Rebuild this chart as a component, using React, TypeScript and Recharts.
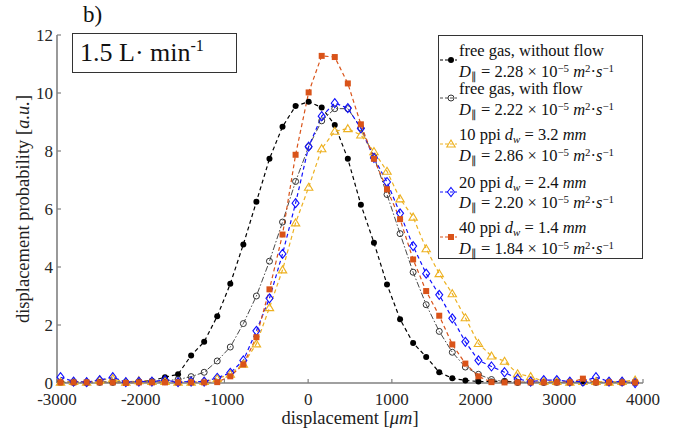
import { LineChart, Line, XAxis, YAxis, Legend } from "recharts";

// displacement grid [µm]
const displacement = [
  -2958, -2802, -2646, -2490, -2334, -2178, -2022, -1866, -1710, -1554,
  -1398, -1242, -1086, -930, -774, -618, -462, -306, -150, 6,
  162, 318, 474, 630, 786, 942, 1098, 1254, 1410, 1566,
  1722, 1878, 2034, 2190, 2346, 2502, 2658, 2814, 2970, 3126,
  3282, 3438, 3594, 3750, 3906,
];

const noFlow = [
  0.03, 0.03, 0.03, 0.03, 0.03, 0.03, 0.05, 0.08, 0.2, 0.3,
  0.95, 1.42, 2.3, 3.42, 4.78, 6.25, 7.73, 8.84, 9.55, 9.7,
  9.5, 8.9, 7.73, 6.15, 4.84, 3.4, 2.2, 1.38, 0.9, 0.37,
  0.16, 0.09, 0.05, 0.05, 0.07, 0.02, 0.03, 0.02, 0.04, 0.02,
  0.02, 0.03, 0.02, 0.02, 0.02,
];

const withFlow = [
  0.02, 0.02, 0.0, 0.02, 0.02, 0.02, 0.03, 0.05, 0.08, 0.12,
  0.22, 0.37, 0.76, 1.24, 2.05, 3.0, 4.2, 5.55, 6.95, 8.15,
  9.04, 9.46, 9.46, 8.8, 7.8, 6.5, 5.15, 3.82, 2.7, 1.78,
  1.06, 0.55, 0.3, 0.12, 0.05, 0.02, 0.02, 0.02, 0.02, 0.02,
  0.02, 0.02, 0.02, 0.02, 0.02,
];

const ppi10 = [
  0.03, 0.05, 0.03, 0.1, 0.15, 0.03, 0.08, 0.05, 0.05, 0.03,
  0.03, 0.05, 0.15, 0.3, 0.65, 1.35, 2.6, 3.9, 5.52, 6.75,
  8.08, 8.68, 8.77, 8.55, 7.98, 7.3, 6.35, 5.72, 4.63, 3.77,
  3.08, 2.25, 1.36, 0.93, 0.75, 0.32, 0.22, 0.05, 0.05, 0.03,
  0.05, 0.05, 0.03, 0.05, 0.1,
];

const ppi20 = [
  0.2, 0.05, 0.03, 0.1, 0.2, 0.03, 0.05, 0.05, 0.1, 0.03,
  0.05, 0.05, 0.18, 0.35, 0.78, 1.8, 2.92, 4.45, 6.2, 8.15,
  9.2, 9.65, 9.48, 8.78, 7.76, 6.93, 5.85, 4.72, 3.77, 3.04,
  2.23, 1.42, 0.78, 0.57, 0.37, 0.14, 0.05, 0.1, 0.1, 0.05,
  0.05, 0.2, 0.05, 0.05, 0.0,
];

const ppi40 = [
  0.02, 0.02, 0.02, 0.02, 0.02, 0.0, 0.02, 0.02, 0.02, 0.02,
  0.02, 0.02, 0.03, 0.23, 0.64, 1.58, 3.23, 5.12, 7.87, 10.02,
  11.28, 11.24, 10.33, 8.92, 7.73, 6.68, 5.65, 4.26, 3.17, 2.32,
  1.33, 0.67, 0.23, 0.03, 0.02, 0.02, 0.02, 0.02, 0.02, 0.02,
  0.15, 0.02, 0.02, 0.02, 0.02,
];

const xTicks = [-3000, -2000, -1000, 0, 1000, 2000, 3000, 4000];
const yTicks = [0, 2, 4, 6, 8, 10, 12];

const seriesNames = ["free gas, without flow", "free gas, with flow", "10 ppi", "20 ppi", "40 ppi"];
const wireDiameter = ["", "", "3.2", "2.4", "1.4"];
const diffusionCoef = ["2.28", "2.22", "2.86", "2.20", "1.84"];

const FONT = '"Liberation Serif", "Times New Roman", serif';

const SERIES = [
  { key: "noFlow", color: "#000000", shape: "dot", dash: "4 3", width: 1.2 },
  { key: "withFlow", color: "#333333", shape: "ring", dash: "6 2 1.5 2", width: 0.9 },
  { key: "ppi10", color: "#EDB120", shape: "triangle", dash: "4 3", width: 1.2 },
  { key: "ppi20", color: "#1010FF", shape: "diamond", dash: "4 3", width: 1.2 },
  { key: "ppi40", color: "#D95319", shape: "square", dash: "4 3", width: 1.2 },
];

const data = displacement.map((x, i) => ({
  x,
  noFlow: noFlow[i],
  withFlow: withFlow[i],
  ppi10: ppi10[i],
  ppi20: ppi20[i],
  ppi40: ppi40[i],
}));

function Marker({ shape, color, cx, cy }: { shape: string; color: string; cx: number; cy: number }) {
  switch (shape) {
    case "dot":
      return <circle cx={cx} cy={cy} r={3} fill={color} />;
    case "ring":
      return <circle cx={cx} cy={cy} r={3} fill="none" stroke={color} strokeWidth={1} />;
    case "triangle":
      return (
        <polygon
          points={`${cx},${cy - 4} ${cx + 4.2},${cy + 3} ${cx - 4.2},${cy + 3}`}
          fill="none"
          stroke={color}
          strokeWidth={1.1}
        />
      );
    case "diamond":
      return (
        <polygon
          points={`${cx},${cy - 4.5} ${cx + 3.5},${cy} ${cx},${cy + 4.5} ${cx - 3.5},${cy}`}
          fill="none"
          stroke={color}
          strokeWidth={1.1}
        />
      );
    default:
      return <rect x={cx - 3} y={cy - 3} width={6} height={6} fill={color} />;
  }
}

const makeDot = (shape: string, color: string) => (props: any) => {
  const { cx, cy, index } = props;
  if (cx == null || cy == null) return <g key={index} />;
  return (
    <g key={index}>
      <Marker shape={shape} color={color} cx={cx} cy={cy} />
    </g>
  );
};

const sup = { fontSize: "0.66em", verticalAlign: "0.5em", lineHeight: 0 } as const;
const sub = { fontSize: "0.66em", verticalAlign: "-0.28em", lineHeight: 0 } as const;

const rowTop = [5, 43, 89, 136.5, 182];

function LegendBox() {
  return (
    <div
      style={{
        position: "relative",
        width: 205,
        height: 224,
        border: "1px solid #333",
        boxSizing: "border-box",
        background: "#fff",
        fontFamily: FONT,
        fontSize: 16.5,
        color: "#111",
      }}
    >
      {SERIES.map((s, i) => (
        <div key={s.key} style={{ position: "absolute", left: 0, top: rowTop[i], width: "100%" }}>
          <svg style={{ position: "absolute", left: 1, top: 13 }} width={18} height={12}>
            <line x1={0} x2={17} y1={6} y2={6} stroke={s.color} strokeWidth={s.width} strokeDasharray="3 2" />
            <Marker shape={s.shape} color={s.color} cx={11} cy={6} />
          </svg>
          <div style={{ position: "absolute", left: 20, top: 0, lineHeight: "20.5px", whiteSpace: "nowrap" }}>
            <div>
              {seriesNames[i]}
              {wireDiameter[i] && (
                <>
                  {" "}
                  <i>d</i>
                  <sub style={sub}>
                    <i>w</i>
                  </sub>{" "}
                  = {wireDiameter[i]} <i>mm</i>
                </>
              )}
            </div>
            <div>
              <i>D</i>
              <sub style={sub}>∥</sub> = {diffusionCoef[i]} × 10<sup style={sup}>−5</sup> <i>m</i>
              <sup style={sup}>2</sup>·<i>s</i>
              <sup style={sup}>−1</sup>
            </div>
          </div>
        </div>
      ))}
    </div>
  );
}

const XTitle = (props: any) => {
  const { viewBox } = props;
  return (
    <text
      x={viewBox.x + viewBox.width / 2}
      y={viewBox.y + 41}
      textAnchor="middle"
      fontFamily={FONT}
      fontSize={18.5}
      fill="#222"
    >
      displacement [<tspan fontStyle="italic">μm</tspan>]
    </text>
  );
};

const YTitle = (props: any) => {
  const { viewBox } = props;
  const cx = 23;
  const cy = viewBox.y + viewBox.height / 2;
  return (
    <text
      x={cx}
      y={cy}
      transform={`rotate(-90 ${cx} ${cy})`}
      textAnchor="middle"
      dominantBaseline="central"
      fontFamily={FONT}
      fontSize={18.5}
      fill="#222"
    >
      displacement probability [<tspan fontStyle="italic">a.u.</tspan>]
    </text>
  );
};

export default function App() {
  return (
    <div style={{ position: "absolute", left: 0, top: 0, width: 680, height: 433, background: "#fff" }}>
      <LineChart width={680} height={433} data={data} margin={{ top: 35, right: 37, bottom: 0, left: 0 }}>
        <XAxis
          dataKey="x"
          type="number"
          domain={[-3000, 4000]}
          ticks={xTicks}
          interval={0}
          height={50}
          axisLine={{ stroke: "#808080", strokeWidth: 1.6 }}
          tickLine={{ stroke: "#808080", strokeWidth: 1.2 }}
          tickSize={-4}
          tickMargin={14}
          tick={{ fill: "#262626", fontSize: 17, fontFamily: FONT }}
          label={<XTitle />}
        />
        <YAxis
          type="number"
          domain={[0, 12]}
          ticks={yTicks}
          interval={0}
          width={57}
          axisLine={{ stroke: "#808080", strokeWidth: 1.6 }}
          tickLine={{ stroke: "#808080", strokeWidth: 1.2 }}
          tickSize={-4}
          tickMargin={8}
          tick={{ fill: "#262626", fontSize: 17, fontFamily: FONT }}
          label={<YTitle />}
        />
        <Legend
          layout="vertical"
          align="center"
          verticalAlign="middle"
          wrapperStyle={{ left: 438, top: 35, width: 205, height: 224 }}
          content={() => <LegendBox />}
        />
        {SERIES.map((s) => (
          <Line
            key={s.key}
            dataKey={s.key}
            stroke={s.color}
            strokeWidth={s.width}
            strokeDasharray={s.dash}
            dot={makeDot(s.shape, s.color)}
            activeDot={false}
            isAnimationActive={false}
          />
        ))}
      </LineChart>
      <div
        style={{
          position: "absolute",
          left: 83,
          top: 2,
          fontFamily: FONT,
          fontSize: 23,
          color: "#111",
        }}
      >
        b)
      </div>
      <div
        style={{
          position: "absolute",
          left: 72,
          top: 33,
          width: 165,
          height: 40,
          border: "1.3px solid #333",
          boxSizing: "border-box",
          background: "#fff",
          fontFamily: FONT,
          fontSize: 26,
          lineHeight: "37px",
          paddingLeft: 7,
          color: "#111",
          whiteSpace: "nowrap",
        }}
      >
        1.5 L· min<sup style={{ fontSize: "0.62em", verticalAlign: "0.6em", lineHeight: 0 }}>-1</sup>
      </div>
    </div>
  );
}
